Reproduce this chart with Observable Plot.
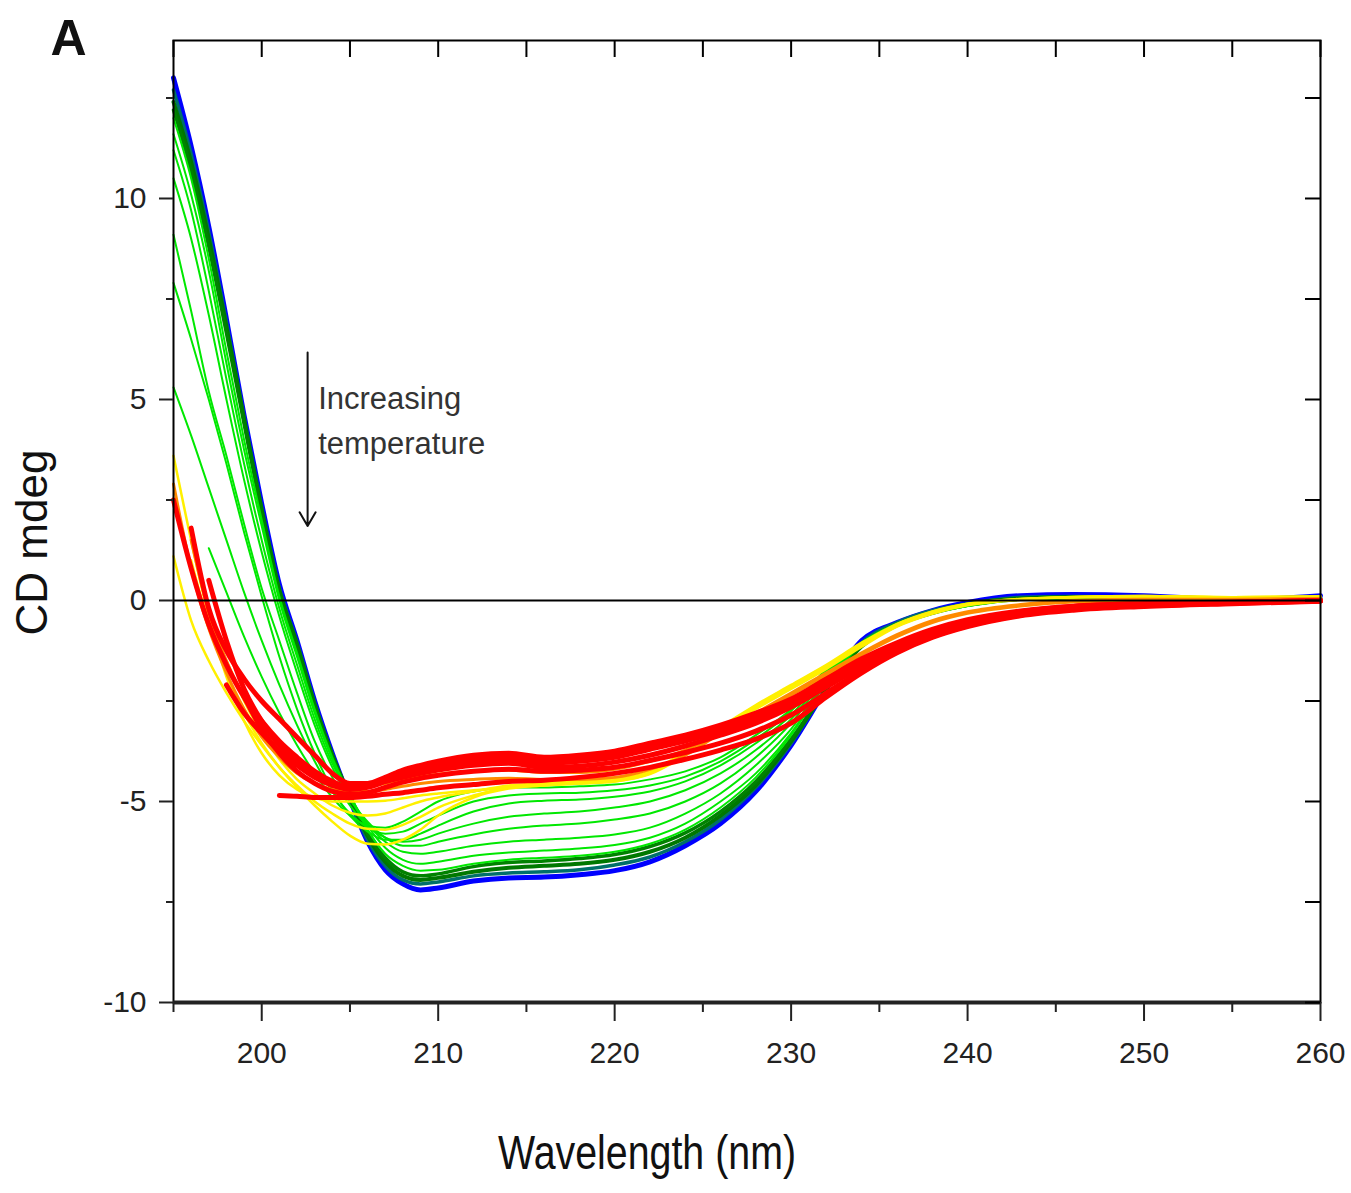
<!DOCTYPE html>
<html>
<head>
<meta charset="utf-8">
<script src="https://cdn.jsdelivr.net/npm/d3@7"></script>
<script src="https://cdn.jsdelivr.net/npm/@observablehq/plot@0.6"></script>
<style>
  html, body { margin: 0; padding: 0; background: #fff; }
  #chart { width: 1351px; height: 1193px; }
</style>
</head>
<body>
<div id="chart"></div>
<script>
// ---- Data ----
const wavelengths = [195,196,197,198,199,200,201,202,203,204,205,206,207,208,209,210,212,214,216,218,220,222,224,226,228,230,232,234,236,238,240,243,246,250,255,260];

const blue = [13.0,11.3,9.3,7.0,4.6,2.4,0.4,-1.0,-2.5,-3.8,-4.95,-6.0,-6.7,-7.05,-7.2,-7.15,-6.98,-6.9,-6.88,-6.82,-6.72,-6.5,-6.1,-5.55,-4.75,-3.6,-2.2,-1.0,-0.55,-0.25,-0.05,0.12,0.15,0.12,0.02,0.12];
const teal = [12.7,11.1,9.15,6.9,4.55,2.3,0.3,-1.05,-2.55,-3.85,-4.95,-5.95,-6.6,-6.95,-7.05,-7.0,-6.85,-6.78,-6.75,-6.7,-6.58,-6.38,-6.0,-5.45,-4.65,-3.55,-2.2,-1.05,-0.55,-0.25,-0.08,0.08,0.1,0.08,0.02,0.08];
const darkGreen1 = [12.4,10.9,9.0,6.8,4.5,2.25,0.25,-1.1,-2.6,-3.85,-4.9,-5.85,-6.5,-6.85,-6.95,-6.9,-6.75,-6.65,-6.6,-6.55,-6.45,-6.25,-5.9,-5.35,-4.6,-3.5,-2.2,-1.1,-0.6,-0.3,-0.1,0.05,0.08,0.06,0.02,0.05];
const darkGreen2 = [12.2,10.7,8.8,6.65,4.4,2.2,0.2,-1.15,-2.6,-3.85,-4.85,-5.8,-6.4,-6.75,-6.85,-6.8,-6.62,-6.52,-6.48,-6.42,-6.32,-6.12,-5.78,-5.25,-4.5,-3.45,-2.2,-1.15,-0.62,-0.32,-0.12,0.03,0.06,0.05,0.02,0.05];
const green1 = [12.0,10.5,8.5,6.2,4.0,2.0,0.1,-1.3,-2.7,-3.9,-4.85,-5.7,-6.3,-6.6,-6.72,-6.7,-6.55,-6.45,-6.4,-6.35,-6.25,-6.05,-5.7,-5.15,-4.4,-3.35,-2.05,-1.1,-0.6,-0.32,-0.12,0.03,0.06,0.05,0.02,0.04];
const green2 = [11.6,10.1,8.2,5.9,3.75,1.85,0.0,-1.4,-2.8,-3.95,-4.85,-5.6,-6.15,-6.45,-6.55,-6.5,-6.35,-6.27,-6.22,-6.17,-6.08,-5.9,-5.55,-5.0,-4.3,-3.3,-2.0,-1.1,-0.6,-0.32,-0.12,0.03,0.06,0.05,0.02,0.04];
const green3 = [11.2,9.7,7.7,5.5,3.4,1.5,-0.2,-1.6,-2.95,-4.05,-4.9,-5.55,-6.0,-6.25,-6.3,-6.25,-6.1,-6.0,-5.95,-5.9,-5.82,-5.65,-5.3,-4.8,-4.1,-3.2,-1.95,-1.05,-0.58,-0.3,-0.12,0.03,0.06,0.05,0.02,0.04];
const green4 = [10.5,9.0,7.1,5.0,3.0,1.2,-0.4,-1.8,-3.1,-4.15,-4.95,-5.5,-5.9,-6.1,-6.1,-6.0,-5.82,-5.68,-5.6,-5.55,-5.45,-5.3,-5.0,-4.55,-3.9,-3.05,-1.9,-1.05,-0.58,-0.3,-0.12,0.03,0.06,0.05,0.02,0.04];
const green5 = [9.1,7.2,5.2,3.6,1.9,0.3,-1.0,-2.3,-3.5,-4.4,-5.1,-5.6,-5.9,-6.0,-5.95,-5.8,-5.55,-5.38,-5.3,-5.25,-5.15,-5.0,-4.72,-4.3,-3.72,-2.95,-1.85,-1.05,-0.58,-0.3,-0.12,0.03,0.06,0.05,0.02,0.04];
const green6 = [7.9,6.5,5.0,3.4,1.7,0.1,-1.4,-2.7,-3.8,-4.7,-5.35,-5.75,-5.95,-5.95,-5.8,-5.6,-5.25,-5.05,-4.98,-4.95,-4.88,-4.75,-4.5,-4.1,-3.55,-2.85,-1.8,-1.05,-0.58,-0.3,-0.12,0.03,0.06,0.05,0.02,0.04];
const green7 = [5.3,4.1,2.8,1.5,0.2,-1.0,-2.1,-3.1,-4.0,-4.75,-5.3,-5.65,-5.8,-5.75,-5.55,-5.35,-5.0,-4.85,-4.8,-4.78,-4.72,-4.6,-4.38,-4.0,-3.45,-2.75,-1.75,-1.05,-0.6,-0.32,-0.14,0.02,0.05,0.05,0.02,0.04];
const green8 = [null,null,1.3,0.2,-0.9,-1.9,-2.8,-3.6,-4.3,-4.9,-5.35,-5.6,-5.65,-5.5,-5.25,-5.0,-4.75,-4.65,-4.65,-4.62,-4.58,-4.45,-4.25,-3.9,-3.35,-2.7,-1.7,-1.05,-0.6,-0.32,-0.14,0.02,0.05,0.05,0.02,0.04];
const yellow1 = [3.6,1.5,-0.4,-1.9,-3.0,-3.8,-4.35,-4.7,-4.9,-5.0,-5.0,-5.0,-4.98,-4.92,-4.85,-4.8,-4.72,-4.65,-4.6,-4.55,-4.5,-4.32,-3.85,-3.25,-2.7,-2.2,-1.7,-1.15,-0.65,-0.33,-0.12,0.02,0.08,0.1,0.08,0.1];
const yellow2 = [1.1,-0.5,-1.5,-2.3,-3.0,-3.6,-4.15,-4.65,-5.1,-5.5,-5.85,-6.05,-6.07,-5.95,-5.7,-5.35,-4.9,-4.68,-4.6,-4.55,-4.5,-4.3,-3.8,-3.2,-2.65,-2.15,-1.65,-1.1,-0.6,-0.3,-0.1,0.03,0.08,0.1,0.08,0.1];
const yellow3 = [null,1.0,-0.6,-1.8,-2.8,-3.55,-4.15,-4.6,-5.0,-5.3,-5.55,-5.68,-5.7,-5.58,-5.38,-5.15,-4.85,-4.65,-4.55,-4.5,-4.45,-4.27,-3.78,-3.18,-2.62,-2.12,-1.62,-1.08,-0.6,-0.28,-0.08,0.04,0.09,0.11,0.08,0.1];
const yellow4 = [null,null,null,-1.5,-2.5,-3.3,-3.95,-4.45,-4.8,-5.1,-5.28,-5.35,-5.3,-5.15,-5.0,-4.9,-4.75,-4.6,-4.55,-4.5,-4.45,-4.25,-3.75,-3.15,-2.6,-2.1,-1.6,-1.05,-0.58,-0.27,-0.08,0.04,0.09,0.11,0.08,0.1];
const orange1 = [2.9,0.8,-0.7,-1.8,-2.7,-3.4,-3.9,-4.3,-4.55,-4.7,-4.75,-4.75,-4.7,-4.62,-4.55,-4.5,-4.45,-4.42,-4.45,-4.45,-4.4,-4.2,-3.85,-3.3,-2.8,-2.3,-1.8,-1.3,-0.85,-0.5,-0.28,-0.1,0.0,0.03,0.03,0.05];
const orange2 = [null,1.5,-0.3,-1.5,-2.4,-3.1,-3.65,-4.1,-4.4,-4.6,-4.65,-4.62,-4.55,-4.45,-4.38,-4.32,-4.25,-4.22,-4.28,-4.28,-4.2,-4.0,-3.72,-3.3,-2.82,-2.35,-1.85,-1.35,-0.9,-0.55,-0.32,-0.14,-0.04,0.0,0.02,0.04];
const red1 = [null,1.8,-0.2,-1.25,-1.95,-2.5,-2.95,-3.4,-3.85,-4.3,-4.55,-4.55,-4.4,-4.22,-4.1,-4.0,-3.85,-3.8,-3.9,-3.85,-3.75,-3.55,-3.35,-3.1,-2.8,-2.45,-1.95,-1.45,-1.05,-0.72,-0.48,-0.26,-0.14,-0.08,-0.05,0.0];
const red2 = [null,null,null,-2.1,-2.8,-3.3,-3.75,-4.1,-4.4,-4.6,-4.7,-4.65,-4.5,-4.35,-4.25,-4.15,-4.0,-3.95,-4.05,-4.0,-3.9,-3.7,-3.5,-3.25,-2.95,-2.55,-2.05,-1.55,-1.15,-0.8,-0.55,-0.3,-0.17,-0.1,-0.05,0.0];
const red3 = [null,null,null,null,null,null,-4.85,-4.87,-4.9,-4.9,-4.9,-4.87,-4.82,-4.78,-4.72,-4.66,-4.58,-4.5,-4.47,-4.4,-4.3,-4.15,-3.95,-3.72,-3.45,-3.05,-2.4,-1.8,-1.3,-0.92,-0.65,-0.38,-0.24,-0.15,-0.08,-0.02];
const red4 = [2.5,0.8,-0.6,-1.6,-2.4,-3.0,-3.5,-3.9,-4.25,-4.5,-4.65,-4.62,-4.5,-4.4,-4.3,-4.22,-4.1,-4.05,-4.15,-4.12,-4.02,-3.85,-3.62,-3.35,-3.05,-2.65,-2.15,-1.65,-1.2,-0.85,-0.6,-0.34,-0.2,-0.12,-0.06,-0.01];
const red5 = [null,null,0.5,-1.0,-2.2,-3.0,-3.6,-4.0,-4.35,-4.55,-4.65,-4.6,-4.45,-4.3,-4.2,-4.1,-3.95,-3.88,-3.95,-3.92,-3.85,-3.65,-3.45,-3.2,-2.88,-2.5,-2.0,-1.5,-1.1,-0.76,-0.52,-0.28,-0.15,-0.08,-0.04,0.0];
const red6 = [null,null,null,null,-2.4,-3.2,-3.8,-4.25,-4.55,-4.75,-4.82,-4.78,-4.65,-4.52,-4.42,-4.35,-4.25,-4.2,-4.25,-4.22,-4.15,-3.98,-3.78,-3.55,-3.25,-2.85,-2.3,-1.75,-1.28,-0.9,-0.63,-0.36,-0.21,-0.13,-0.07,-0.01];

const xMajorTicks = [200, 210, 220, 230, 240, 250, 260];
const xMinorTicks = [195, 205, 215, 225, 235, 245, 255];
const yMajorTicks = [-10, -5, 0, 5, 10];
const yMinorTicks = [-7.5, -2.5, 2.5, 7.5, 12.5];

const xLabel = "Wavelength (nm)";
const yLabel = "CD mdeg";
const panelLabel = "A";
const noteLines = ["Increasing", "temperature"];
const noteX = [203.2, 203.2];
const noteY = [5.0, 3.88];
const arrowX = 202.6;
const arrowYStart = 6.17;
const arrowYEnd = 1.85;

// ---- Styles (kept apart from the data) ----
const seriesList = [
  {values: blue, color: "#0000ff", width: 5},
  {values: teal, color: "#00706a", width: 3.5},
  {values: darkGreen1, color: "#007800", width: 4},
  {values: darkGreen2, color: "#008200", width: 3.5},
  {values: green1, color: "#00e800", width: 2},
  {values: green2, color: "#00e800", width: 2},
  {values: green3, color: "#00e800", width: 2},
  {values: green4, color: "#00e800", width: 2},
  {values: green5, color: "#00e800", width: 2},
  {values: green6, color: "#00e800", width: 2},
  {values: green7, color: "#00e800", width: 2},
  {values: green8, color: "#00e800", width: 2},
  {values: yellow1, color: "#fff000", width: 2.5},
  {values: yellow2, color: "#fff000", width: 2.5},
  {values: yellow3, color: "#fff000", width: 2.5},
  {values: yellow4, color: "#fff000", width: 2.5},
  {values: orange1, color: "#ff8a00", width: 3},
  {values: orange2, color: "#ff8a00", width: 3},
  {values: red1, color: "#ff0000", width: 5},
  {values: red2, color: "#ff0000", width: 5},
  {values: red3, color: "#ff0000", width: 5},
  {values: red4, color: "#ff0000", width: 5},
  {values: red5, color: "#ff0000", width: 5},
  {values: red6, color: "#ff0000", width: 5}
];

const W = 1351, H = 1193;
const mTop = 40, mBottom = 191, mLeft = 173, mRight = 31;
const innerH = H - mTop - mBottom;
const innerW = W - mLeft - mRight;

const lineMarks = seriesList.map(s => {
  const rows = wavelengths
    .map((w, i) => ({w, v: s.values[i]}))
    .filter(d => d.v !== null && d.v !== undefined);
  return Plot.line(rows, {x: "w", y: "v", stroke: s.color, strokeWidth: s.width, curve: "monotone-x"});
});

const chart = Plot.plot({
  width: W,
  height: H,
  marginTop: mTop,
  marginBottom: mBottom,
  marginLeft: mLeft,
  marginRight: mRight,
  x: {domain: [195, 260], label: null},
  y: {domain: [-10, 13.93], label: null},
  style: {fontFamily: "'Liberation Sans', Arial, sans-serif", background: "#fff", color: "#222", overflow: "visible"},
  marks: [
    ...lineMarks,
    Plot.ruleY([0], {stroke: "#000", strokeWidth: 2}),
    Plot.frame({stroke: "#000", strokeWidth: 2}),
    Plot.ruleY([-10], {stroke: "#222", strokeWidth: 4}),
    // bottom axis
    Plot.axisX(xMajorTicks, {anchor: "bottom", tickSize: 19, tickPadding: 20, fontSize: 30, strokeWidth: 2, tickFormat: d => String(d), label: null}),
    Plot.axisX(xMinorTicks, {anchor: "bottom", tickSize: 10, strokeWidth: 2, tickFormat: () => "", label: null}),
    // left axis
    Plot.axisY(yMajorTicks, {anchor: "left", tickSize: 14, tickPadding: 13, fontSize: 30, strokeWidth: 2, tickFormat: d => String(d), label: null}),
    Plot.axisY(yMinorTicks, {anchor: "left", tickSize: 7, strokeWidth: 2, tickFormat: () => "", label: null}),
    // top inward ticks
    Plot.tickX([...xMajorTicks, ...xMinorTicks], {x: d => d, insetBottom: innerH - 17, stroke: "#000", strokeWidth: 2}),
    // right inward ticks
    Plot.tickY([...yMajorTicks, ...yMinorTicks], {y: d => d, insetLeft: innerW - 15, stroke: "#000", strokeWidth: 2}),
    // annotation arrow and text
    Plot.arrow([0], {x1: () => arrowX, x2: () => arrowX, y1: () => arrowYStart, y2: () => arrowYEnd, stroke: "#111", strokeWidth: 2, headLength: 12}),
    Plot.text(noteLines, {x: (d, i) => noteX[i], y: (d, i) => noteY[i], text: d => d, textAnchor: "start", fontSize: 31, fill: "#333"}),
    // titles
    Plot.text([xLabel], {frameAnchor: "bottom", dx: -100, dy: 166, fontSize: 48, fill: "#111", text: d => d}),
    Plot.text([yLabel], {frameAnchor: "left", textAnchor: "middle", dx: -141, dy: 21, rotate: -90, fontSize: 44, fill: "#111", text: d => d}),
    Plot.text([panelLabel], {frameAnchor: "top-left", textAnchor: "start", dx: -123, dy: -21, fontSize: 50, fontWeight: "bold", fill: "#111", text: d => d})
  ]
});

// condense a few labels to the reference's narrow lettering
const widths = {"Wavelength (nm)": 298, "Increasing": 143, "temperature": 167};
chart.querySelectorAll("text").forEach(t => {
  const s = t.textContent;
  if (widths[s] !== undefined) {
    t.setAttribute("textLength", widths[s]);
    t.setAttribute("lengthAdjust", "spacingAndGlyphs");
  }
});

document.getElementById("chart").appendChild(chart);
</script>
</body>
</html>
